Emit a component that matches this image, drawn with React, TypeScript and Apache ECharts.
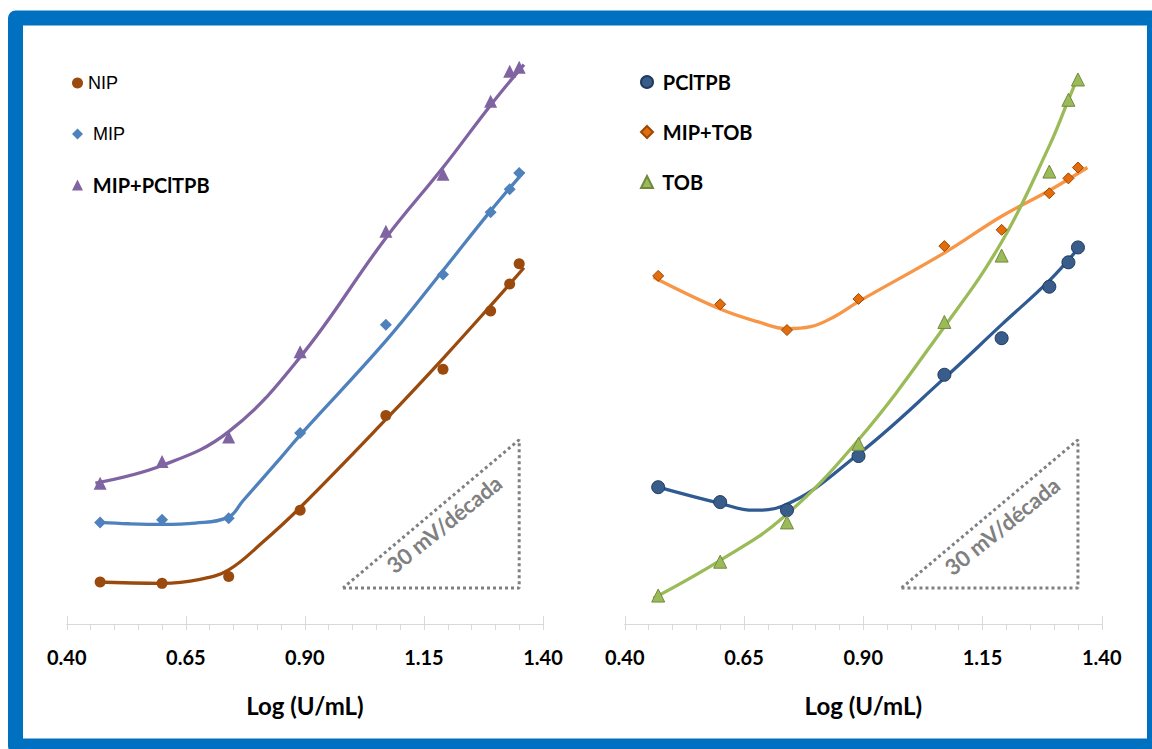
import React, { useEffect, useRef } from "react";
import * as echarts from "echarts";

// Log (U/mL) values shared by every series
const X_VALUES = [0.47, 0.6, 0.74, 0.89, 1.07, 1.19, 1.29, 1.33, 1.35];

// Left panel (potential, mV – relative)
const NIP = [3.1, 3.0, 3.5, 8.4, 15.4, 18.8, 23.1, 25.1, 26.6];
const MIP = [7.5, 7.7, 7.8, 14.1, 22.1, 25.8, 30.4, 32.1, 33.3];
const MIP_PCLTPB = [10.4, 12.0, 13.8, 20.1, 29.0, 33.2, 38.6, 40.8, 41.1];

// Right panel
const PCLTPB = [10.1, 9.0, 8.4, 12.4, 18.4, 21.1, 24.9, 26.7, 27.8];
const MIP_TOB = [25.7, 23.6, 21.7, 24.0, 27.9, 29.1, 31.8, 32.9, 33.7];
const TOB = [2.1, 4.6, 7.5, 13.3, 22.3, 27.2, 33.4, 38.7, 40.2];

// Trend lines
const NIP_FIT_X = [0.46, 0.6, 0.68, 0.74, 0.81, 0.89, 1.07, 1.19, 1.29, 1.36];
const NIP_FIT_Y = [3.1, 3.0, 3.3, 4.0, 6.0, 8.6, 15.1, 19.6, 23.5, 26.3];
const MIP_FIT_X = [0.47, 0.53, 0.6, 0.67, 0.74, 0.77, 0.85, 0.89, 1.07, 1.19, 1.29, 1.36];
const MIP_FIT_Y = [7.5, 7.4, 7.35, 7.45, 7.9, 9.1, 12.3, 13.95, 20.9, 26.1, 30.5, 33.4];
const MIPP_FIT_X = [0.46, 0.6, 0.74, 0.89, 1.07, 1.19, 1.29, 1.36];
const MIPP_FIT_Y = [10.4, 11.7, 14.2, 19.7, 28.5, 33.7, 38.3, 41.3];

const PCL_FIT_X = [0.47, 0.6, 0.67, 0.73, 0.89, 1.07, 1.19, 1.29, 1.35];
const PCL_FIT_Y = [10.1, 8.9, 8.4, 8.7, 12.55, 18.15, 22.1, 25.35, 27.7];
const MIPTOB_FIT_X = [0.46, 0.6, 0.68, 0.74, 0.79, 0.84, 0.89, 1.07, 1.19, 1.29, 1.37];
const MIPTOB_FIT_Y = [25.6, 23.25, 22.3, 21.8, 21.95, 22.7, 23.8, 27.4, 30.1, 32.0, 33.7];
const TOB_FIT_X = [0.46, 0.6, 0.73, 0.89, 1.07, 1.19, 1.29, 1.33, 1.35];
const TOB_FIT_Y = [1.9, 4.7, 7.8, 13.6, 21.95, 28.2, 35.3, 38.7, 40.4];

// 30 mV/decade slope triangle
const SLOPE_X = [0.98, 1.35, 1.35, 0.98];
const SLOPE_Y = [2.66, 2.66, 13.6, 2.66];

const X_TICKS = [0.4, 0.65, 0.9, 1.15, 1.4];
const SLOPE_LABEL = "30 mV/década";
const AXIS_TITLE = "Log (U/mL)";

const FONT = "Lato, 'Open Sans', sans-serif";
const ARIAL = "'Liberation Sans', Arial, sans-serif";

const zip = (xs: number[], ys: number[]) => xs.map((x, i) => [x, ys[i]]);
const isMajor = (v: number) => X_TICKS.some((t) => Math.abs(t - v) < 1e-6);

const mainX = (gridIndex: number) => ({
  type: "value",
  gridIndex,
  min: 0.4,
  max: 1.4,
  interval: 0.05,
  position: "bottom",
  axisLine: { show: true, lineStyle: { color: "#D9D9D9", width: 1 } },
  axisTick: { show: true, inside: false, length: 6, lineStyle: { color: "#D9D9D9", width: 1 } },
  axisLabel: {
    show: true,
    margin: 23,
    color: "#000",
    fontFamily: FONT,
    fontWeight: "bold",
    fontSize: 20,
    formatter: (v: number) => (isMajor(v) ? v.toFixed(2) : ""),
  },
  splitLine: { show: false },
  name: AXIS_TITLE,
  nameLocation: "middle",
  nameGap: 69,
  nameTextStyle: { color: "#000", fontFamily: FONT, fontWeight: "bold", fontSize: 24 },
});

const majorX = (gridIndex: number) => ({
  type: "value",
  gridIndex,
  min: 0.4,
  max: 1.4,
  position: "bottom",
  axisLine: { show: true, lineStyle: { color: "#D9D9D9", width: 1 } },
  axisTick: { show: true, inside: true, length: 8, customValues: X_TICKS, lineStyle: { color: "#D9D9D9", width: 1 } },
  axisLabel: { show: false },
  splitLine: { show: false },
});

const fitLine = (name: string, xs: number[], ys: number[], color: string, xi: number, yi: number) => ({
  name,
  type: "line",
  xAxisIndex: xi,
  yAxisIndex: yi,
  data: zip(xs, ys),
  smooth: 0.4,
  symbol: "none",
  showSymbol: false,
  lineStyle: { color, width: 3.3 },
  z: 2,
  silent: true,
});

const points = (
  name: string,
  ys: number[],
  symbol: string,
  size: number | number[],
  color: string,
  border: string,
  xi: number,
  yi: number
) => ({
  name,
  type: "scatter",
  xAxisIndex: xi,
  yAxisIndex: yi,
  data: zip(X_VALUES, ys),
  symbol,
  symbolSize: size,
  itemStyle: { color, borderColor: border, borderWidth: border === color ? 0 : 1, opacity: 1 },
  z: 3,
});

const slope = (xi: number, yi: number) => ({
  name: "slope" + xi,
  type: "line",
  xAxisIndex: xi,
  yAxisIndex: yi,
  data: zip(SLOPE_X, SLOPE_Y),
  symbol: "none",
  showSymbol: false,
  lineStyle: { color: "#808080", width: 3, type: [3, 3] },
  z: 1,
  silent: true,
});

const legendItem = (name: string, bold: boolean) => ({
  name,
  textStyle: bold
    ? { fontFamily: FONT, fontSize: 20, fontWeight: "bold", color: "#000", lineHeight: 20 }
    : { fontFamily: ARIAL, fontSize: 18, fontWeight: "normal", color: "#000", lineHeight: 20 },
});

const slopeText = (x: number, y: number) => ({
  type: "text",
  x,
  y,
  rotation: (39 * Math.PI) / 180,
  silent: true,
  style: {
    text: SLOPE_LABEL,
    fill: "#808080",
    fontFamily: FONT,
    fontWeight: "bold",
    fontSize: 22,
    align: "center",
    verticalAlign: "middle",
  },
});

export default function App() {
  const ref = useRef<HTMLDivElement>(null);
  useEffect(() => {
    if (!ref.current) return;
    const chart = echarts.init(ref.current, null, { renderer: "svg" });
    chart.setOption({
      animation: false,
      backgroundColor: "#fff",
      grid: [
        { left: 66.8, top: 28, width: 476.2, height: 596 },
        { left: 624.8, top: 28, width: 477, height: 596 },
      ],
      xAxis: [mainX(0), majorX(0), mainX(1), majorX(1)],
      yAxis: [
        { type: "value", gridIndex: 0, min: 0, max: 44, show: false },
        { type: "value", gridIndex: 1, min: 0, max: 44, show: false },
      ],
      legend: [
        {
          left: 67,
          top: 68,
          orient: "vertical",
          itemGap: 31,
          itemWidth: 11,
          itemHeight: 11,
          selectedMode: false,
          formatter: (n: string) => (n === "NIP" ? n : " " + n),
          data: [legendItem("NIP", false), legendItem("MIP", false), legendItem("MIP+PClTPB", true)],
        },
        {
          left: 635,
          top: 67,
          orient: "vertical",
          itemGap: 30,
          itemWidth: 12,
          itemHeight: 12,
          selectedMode: false,
          formatter: (n: string) => " " + n,
          data: [legendItem("PClTPB", true), legendItem("MIP+TOB", true), legendItem("TOB", true)],
        },
      ],
      series: [
        slope(0, 0),
        slope(2, 1),
        fitLine("NIP fit", NIP_FIT_X, NIP_FIT_Y, "#9A4A0C", 0, 0),
        fitLine("MIP fit", MIP_FIT_X, MIP_FIT_Y, "#4F81BD", 0, 0),
        fitLine("MIP+PClTPB fit", MIPP_FIT_X, MIPP_FIT_Y, "#8064A2", 0, 0),
        points("NIP", NIP, "circle", 11, "#9A4A0C", "#9A4A0C", 0, 0),
        points("MIP", MIP, "diamond", 12, "#4F81BD", "#4F81BD", 0, 0),
        points("MIP+PClTPB", MIP_PCLTPB, "triangle", 13, "#8064A2", "#8064A2", 0, 0),
        fitLine("PClTPB fit", PCL_FIT_X, PCL_FIT_Y, "#2F5A92", 2, 1),
        fitLine("MIP+TOB fit", MIPTOB_FIT_X, MIPTOB_FIT_Y, "#F79646", 2, 1),
        fitLine("TOB fit", TOB_FIT_X, TOB_FIT_Y, "#9BBB59", 2, 1),
        points("PClTPB", PCLTPB, "circle", 13, "#385D8A", "#1F3A60", 2, 1),
        points("MIP+TOB", MIP_TOB, "diamond", 11, "#E46C0A", "#984807", 2, 1),
        points("TOB", TOB, "triangle", 13, "#9BBB59", "#71893F", 2, 1),
      ],
      graphic: [
        {
          type: "rect",
          silent: true,
          z: 100,
          shape: { x: 15.5, y: 18, width: 1139, height: 728, r: 0 },
          style: { fill: "none", stroke: "#0070C0", lineWidth: 15, lineJoin: "round" },
        },
        slopeText(444, 524),
        slopeText(1002, 526),
      ],
    });
    return () => chart.dispose();
  }, []);
  return (
    <div
      ref={ref}
      style={{ position: "fixed", left: 0, top: 0, width: 1152, height: 749, background: "#fff" }}
    />
  );
}
